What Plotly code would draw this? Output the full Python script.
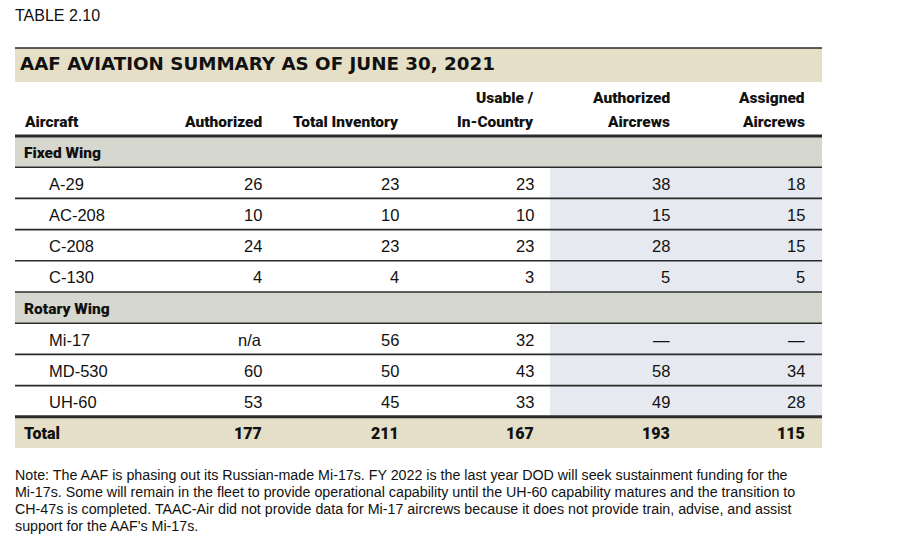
import plotly.graph_objects as go

# ---------------- data ----------------
table_label = "TABLE 2.10"
title = "AAF AVIATION SUMMARY AS OF JUNE 30, 2021"
columns = ["Aircraft", "Authorized", "Total Inventory", "Usable /<br>In-Country",
           "Authorized<br>Aircrews", "Assigned<br>Aircrews"]
groups = ["Fixed Wing", "Rotary Wing"]
group_sizes = [4, 3]
aircraft = ["A-29", "AC-208", "C-208", "C-130", "Mi-17", "MD-530", "UH-60"]
authorized = ["26", "10", "24", "4", "n/a", "60", "53"]
total_inventory = ["23", "10", "23", "4", "56", "50", "45"]
usable_in_country = ["23", "10", "23", "3", "32", "43", "33"]
authorized_aircrews = ["38", "15", "28", "5", "—", "58", "49"]
assigned_aircrews = ["18", "15", "15", "5", "—", "34", "28"]
total_label = "Total"
totals = ["177", "211", "167", "193", "115"]
note_lines = [
    "Note: The AAF is phasing out its Russian-made Mi-17s. FY 2022 is the last year DOD will seek sustainment funding for the",
    "Mi-17s. Some will remain in the fleet to provide operational capability until the UH-60 capability matures and the transition to",
    "CH-47s is completed. TAAC-Air did not provide data for Mi-17 aircrews because it does not provide train, advise, and assist",
    "support for the AAF's Mi-17s.",
]

# ---------------- layout grid ----------------
W, H = 900, 536
OFF = 8  # page body margin of the browser
X0, X1 = 15, 822
SHADE_X0 = 550
col_right = [264, 401, 536, 672, 807]
label_x, indent_x = 22, 47
title_top, title_bot = 48, 82
header_bot = 136
row_h = 31.2

BEIGE = "#E5DFC7"
GREY = "#D6D7CE"
SHADE = "#E6E9EF"
LINE = "#2b2b2b"

BOLDF = "Roboto, DejaVu Sans Condensed, sans-serif"
REG = "Liberation Sans, Arial, sans-serif"
WIDE = "DejaVu Sans, Verdana, sans-serif"

fig = go.Figure()
shapes, ann = [], []

def rect(x0, y0, x1, y1, color):
    shapes.append(dict(type="rect", xref="x", yref="y", x0=x0, x1=x1, y0=y0, y1=y1,
                       fillcolor=color, line=dict(width=0), layer="below"))

def hline(y, width, color=LINE):
    shapes.append(dict(type="line", xref="x", yref="y", x0=X0, x1=X1, y0=y, y1=y,
                       line=dict(color=color, width=width)))

def text(x, y, s, anchor, font, size, weight="normal", color="#111"):
    ann.append(dict(x=x, y=y, xref="x", yref="y", text=s,
                    showarrow=False, xanchor=anchor, yanchor="middle",
                    font=dict(family=font, size=size, color=color, weight=weight)))

HB = 15.5   # bold header size
NV = 16.5   # body values size
HW = 900    # heavy weight for header-like text

# label
text(13, 15, table_label, "left", REG, 16)
# title band
rect(X0, title_top, X1, title_bot, BEIGE)
hline(title_top, 1.5)
text(18, 63.5, title, "left", WIDE, 18.3, weight="bold")

# header
for i, c in enumerate(columns):
    if i == 0:
        text(label_x, 122, c, "left", BOLDF, HB, weight=HW)
    elif "<br>" in c:
        l1, l2 = c.split("<br>")
        text(col_right[i - 1], 98, l1, "right", BOLDF, HB, weight=HW)
        text(col_right[i - 1], 122, l2, "right", BOLDF, HB, weight=HW)
    else:
        text(col_right[i - 1], 122, c, "right", BOLDF, HB, weight=HW)

# body rows
value_cols = [authorized, total_inventory, usable_in_country, authorized_aircrews, assigned_aircrews]
r = 0
k = 0
boundaries = [header_bot]
for g, n in zip(groups, group_sizes):
    y0 = header_bot + r * row_h
    rect(X0, y0, X1, y0 + row_h, GREY)
    text(label_x, y0 + row_h / 2 + 1, g, "left", BOLDF, HB, weight=HW)
    r += 1
    boundaries.append(header_bot + r * row_h)
    for _ in range(n):
        y0 = header_bot + r * row_h
        rect(SHADE_X0, y0, X1, y0 + row_h, SHADE)
        text(indent_x, y0 + row_h / 2 + 1, aircraft[k], "left", REG, NV)
        for j, col in enumerate(value_cols):
            text(col_right[j], y0 + row_h / 2 + 1, col[k], "right", REG, NV)
        k += 1
        r += 1
        boundaries.append(header_bot + r * row_h)

# total row
y0 = header_bot + r * row_h
rect(X0, y0, X1, y0 + row_h, BEIGE)
text(label_x, y0 + row_h / 2 + 1, total_label, "left", BOLDF, 16, weight=HW)
for j, v in enumerate(totals):
    text(col_right[j], y0 + row_h / 2 + 1, v, "right", BOLDF, 16, weight=HW)

for i, b in enumerate(boundaries):
    thick = (i == 0 or i == len(boundaries) - 1)
    hline(b, 3 if thick else 1.6)

# note
for i, line in enumerate(note_lines):
    text(13, 475 + 17 * i, line, "left", REG, 14.25)

fig.update_layout(
    width=W, height=H, margin=dict(l=0, r=0, t=0, b=0),
    paper_bgcolor="white", plot_bgcolor="white",
    xaxis=dict(range=[OFF, W + OFF], visible=False, fixedrange=True),
    yaxis=dict(range=[H + OFF, OFF], visible=False, fixedrange=True),
    shapes=shapes, annotations=ann, showlegend=False,
)
fig.write_html("out.html")
